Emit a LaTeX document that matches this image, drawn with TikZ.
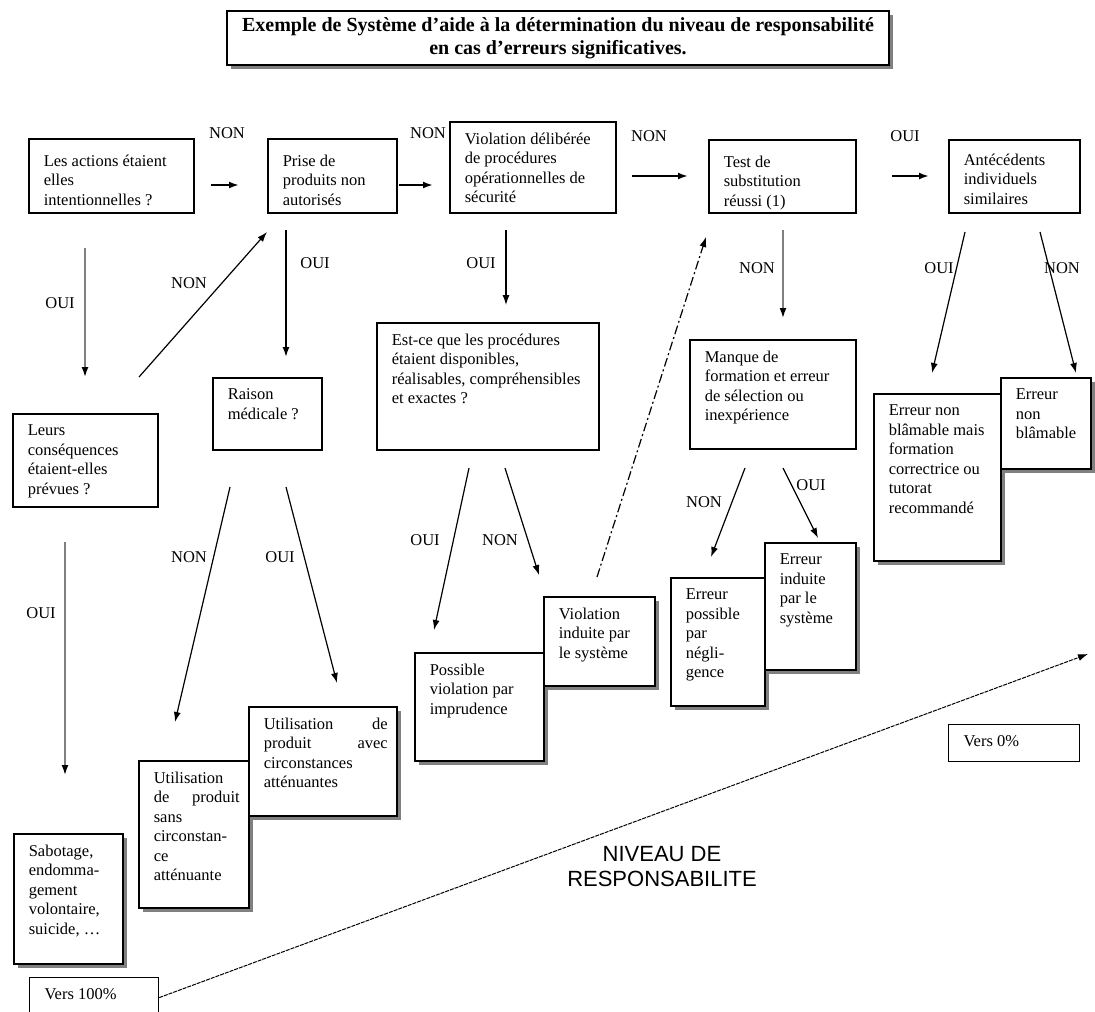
\documentclass[tikz,border=0pt]{standalone}
\usepackage{fontspec}
\setmainfont{Liberation Serif}
\setsansfont{Liberation Sans}
\usetikzlibrary{arrows.meta, shadows}

\newcommand{\cadre}[4][11pt]{\hspace*{15pt}\parbox[t][#3][t]{\dimexpr#2-24pt\relax}{\raggedright\vspace*{#1}#4}\hspace*{9pt}}

\begin{document}
\begin{tikzpicture}[x=1pt, y=-1pt,
        boite/.style={draw, line width=1.6pt, fill=white, anchor=north west, inner sep=0pt, font=\fontsize{16.5}{19.5}\selectfont},
        ombre/.style={boite, drop shadow={shadow xshift=4pt, shadow yshift=-4pt, fill=black!50, opacity=1}},
        etiq/.style={inner sep=0pt, font=\fontsize{16.5}{19.5}\selectfont},
        fleche/.style={line width=1.2pt, -{Latex[length=10pt, width=7pt, color=black]}},
        epaisse/.style={fleche, line width=2pt},
        grise/.style={fleche, draw=black!50, line width=1.6pt}]
        \useasboundingbox (0,0) rectangle (1095,1012);

        \node[ombre, line width=2pt, minimum width=662pt, minimum height=54pt, align=center, font=\bfseries\fontsize{20}{23}\selectfont] (titre) at (226,10) {Exemple de Système d’aide à la détermination du niveau de responsabilité\\ en cas d’erreurs significatives.};

        \node[boite] (actions) at (28,138) {\cadre[16pt]{165pt}{74pt}{Les actions étaient\\ elles\\ intentionnelles ?}};
        \node[boite] (prise) at (267,138) {\cadre[16pt]{129pt}{74pt}{Prise de\\ produits non\\ autorisés}};
        \node[boite] (violation) at (449,121) {\cadre{166pt}{91pt}{Violation délibérée\\ de procédures\\ opérationnelles de\\ sécurité}};
        \node[boite] (test) at (708,139) {\cadre[16pt]{147pt}{73pt}{Test de\\ substitution\\ réussi (1)}};
        \node[boite] (antecedents) at (948,139) {\cadre[14pt]{131pt}{73pt}{Antécédents\\ individuels\\ similaires}};
        \node[boite] (leurs) at (12,413) {\cadre{145pt}{93pt}{Leurs\\ conséquences\\ étaient-elles\\ prévues ?}};
        \node[boite] (raison) at (212,377) {\cadre{109pt}{72pt}{Raison\\ médicale ?}};
        \node[boite] (procedures) at (376,322) {\cadre{222pt}{127pt}{Est-ce que les procédures\\ étaient disponibles,\\ réalisables, compréhensibles\\ et exactes ?}};
        \node[boite] (manque) at (689,339) {\cadre{166pt}{109pt}{Manque de\\ formation et erreur\\ de sélection ou\\ inexpérience}};

        \node[ombre] (sabotage) at (13,833) {\cadre{109pt}{130pt}{Sabotage,\\ endomma-\\ gement\\ volontaire,\\ suicide, \ldots}};
        \node[ombre] (sans) at (138,760) {\cadre{110pt}{147pt}{Utilisation\\ de \hfill produit\\ sans\\ circonstan-\\ ce\\ atténuante}};
        \node[ombre] (avec) at (248,706) {\cadre{148pt}{109pt}{Utilisation \hfill de\\ produit \hfill avec\\ circonstances\\ atténuantes}};
        \node[ombre] (imprudence) at (414,652) {\cadre{129pt}{108pt}{Possible\\ violation par\\ imprudence}};
        \node[ombre] (vsysteme) at (543,596) {\cadre{111pt}{89pt}{Violation\\ induite par\\ le système}};
        \node[ombre] (negligence) at (670,577) {\cadre{94pt}{128pt}{Erreur\\ possible\\ par\\ négli-\\ gence}};
        \node[ombre] (esysteme) at (764,542) {\cadre{91pt}{127pt}{Erreur\\ induite\\ par le\\ système}};
        \node[ombre] (tutorat) at (873,393) {\cadre{127pt}{167pt}{Erreur non\\ blâmable mais\\ formation\\ correctrice ou\\ tutorat\\ recommandé}};
        \node[ombre] (nonblamable) at (1000,377) {\cadre{90pt}{91pt}{Erreur\\ non\\ blâmable}};
        \node[boite, line width=1.2pt] (zero) at (948,724) {\cadre{131pt}{37pt}{Vers 0\%}};
        \node[boite, line width=1.2pt] (cent) at (29,977) {\cadre{129pt}{40pt}{Vers 100\%}};

        \node[font=\sffamily\fontsize{22}{25}\selectfont, align=center] (niveau) at (662,867) {NIVEAU DE\\RESPONSABILITE};

        \node[etiq] (non1) at (227,133) {NON};
        \node[etiq] (non2) at (428,133) {NON};
        \node[etiq] (non3) at (649,136) {NON};
        \node[etiq] (oui1) at (905,136) {OUI};
        \node[etiq] (oui2) at (60,303) {OUI};
        \node[etiq] (non4) at (189,283) {NON};
        \node[etiq] (oui3) at (315,263) {OUI};
        \node[etiq] (oui4) at (481,263) {OUI};
        \node[etiq] (non5) at (757,268) {NON};
        \node[etiq] (oui5) at (939,268) {OUI};
        \node[etiq] (non6) at (1062,268) {NON};
        \node[etiq] (non7) at (189,557) {NON};
        \node[etiq] (oui6) at (280,557) {OUI};
        \node[etiq] (oui7) at (41,613) {OUI};
        \node[etiq] (oui8) at (425,540) {OUI};
        \node[etiq] (non8) at (500,540) {NON};
        \node[etiq] (non9) at (704,502) {NON};
        \node[etiq] (oui9) at (811,485) {OUI};

        \coordinate (ab1) at (211,185);
        \coordinate (ab2) at (239,185);
        \coordinate (bc1) at (399,185);
        \coordinate (bc2) at (433,185);
        \coordinate (cd1) at (632,176);
        \coordinate (cd2) at (688,176);
        \coordinate (de1) at (892,176);
        \coordinate (de2) at (929,176);
        \coordinate (al1) at (85,248);
        \coordinate (al2) at (85,377);
        \coordinate (lb1) at (139,377);
        \coordinate (lb2) at (267,232);
        \coordinate (br1) at (286,230);
        \coordinate (br2) at (286,357);
        \coordinate (cp1) at (506,230);
        \coordinate (cp2) at (506,305);
        \coordinate (vt1) at (597,577);
        \coordinate (vt2) at (706,237);
        \coordinate (dm1) at (783,230);
        \coordinate (dm2) at (783,318);
        \coordinate (et1) at (965,232);
        \coordinate (et2) at (932,373);
        \coordinate (en1) at (1040,232);
        \coordinate (en2) at (1076,373);
        \coordinate (rs1) at (230,487);
        \coordinate (rs2) at (175,722);
        \coordinate (ra1) at (286,487);
        \coordinate (ra2) at (337,683);
        \coordinate (ls1) at (65,542);
        \coordinate (ls2) at (65,775);
        \coordinate (pi1) at (469,468);
        \coordinate (pi2) at (434,630);
        \coordinate (pv1) at (505,468);
        \coordinate (pv2) at (539,575);
        \coordinate (mn1) at (745,468);
        \coordinate (mn2) at (711,557);
        \coordinate (me1) at (783,468);
        \coordinate (me2) at (818,538);

        \draw[epaisse] (ab1) -- (ab2);
        \draw[epaisse] (bc1) -- (bc2);
        \draw[epaisse] (cd1) -- (cd2);
        \draw[epaisse] (de1) -- (de2);
        \draw[grise] (al1) -- (al2);
        \draw[fleche] (lb1) -- (lb2);
        \draw[fleche, line width=1.6pt] (br1) -- (br2);
        \draw[fleche] (cp1) -- (cp2);
        \draw[fleche, dash pattern=on 9pt off 3pt on 2pt off 3pt] (vt1) -- (vt2);
        \draw[grise] (dm1) -- (dm2);
        \draw[fleche] (et1) -- (et2);
        \draw[fleche] (en1) -- (en2);
        \draw[fleche] (rs1) -- (rs2);
        \draw[fleche] (ra1) -- (ra2);
        \draw[grise] (ls1) -- (ls2);
        \draw[fleche] (pi1) -- (pi2);
        \draw[fleche] (pv1) -- (pv2);
        \draw[fleche] (mn1) -- (mn2);
        \draw[fleche] (me1) -- (me2);
        \draw[fleche, line width=1pt, dash pattern=on 4pt off 1pt] (cent.east) -- (1088,654);
    \end{tikzpicture}
\end{document}
